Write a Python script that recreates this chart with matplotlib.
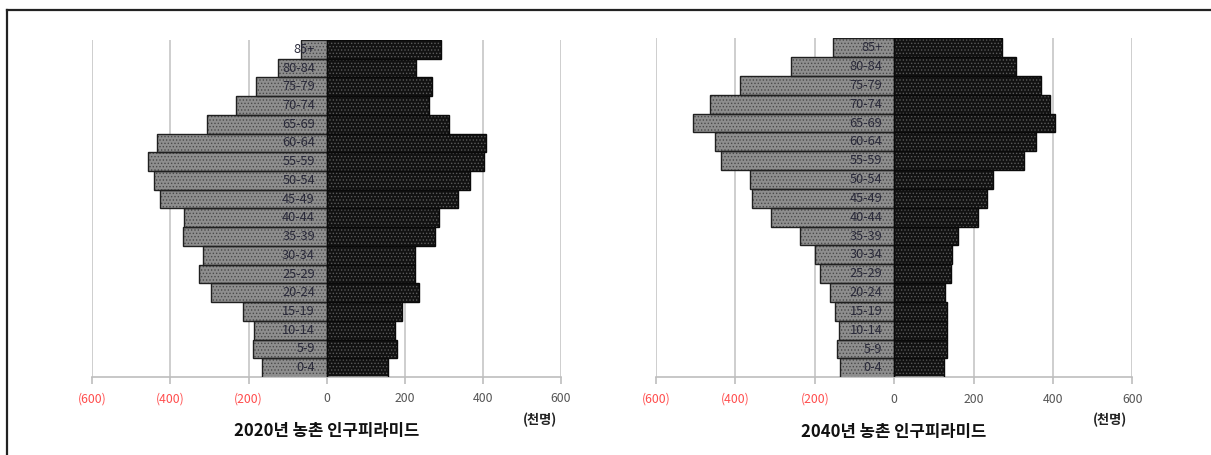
import matplotlib.pyplot as plt
import numpy as np

plt.rcParams['font.family'] = ['Noto Sans CJK KR', 'DejaVu Sans']
plt.rcParams['hatch.linewidth'] = 0.6

# 연령 구간 (아래 -> 위)
연령 = ['0-4', '5-9', '10-14', '15-19', '20-24', '25-29', '30-34', '35-39', '40-44',
      '45-49', '50-54', '55-59', '60-64', '65-69', '70-74', '75-79', '80-84', '85+']

# 2020년 농촌 인구 (천명), 남자는 왼쪽(음수)
남자_2020 = [166, 189, 186, 214, 297, 327, 316, 367, 365, 427, 442, 458, 435, 306, 232, 181, 124, 66]
여자_2020 = [158, 179, 175, 192, 237, 227, 226, 277, 288, 337, 367, 404, 407, 314, 262, 269, 228, 293]

# 2040년 농촌 인구 (천명)
남자_2040 = [136, 143, 140, 149, 162, 187, 200, 237, 311, 358, 364, 435, 451, 508, 463, 388, 260, 153]
여자_2040 = [126, 134, 132, 133, 128, 144, 147, 162, 210, 235, 249, 327, 358, 405, 393, 371, 306, 271]

눈금 = [-600, -400, -200, 0, 200, 400, 600]
눈금_라벨 = ['(600)', '(400)', '(200)', '0', '200', '400', '600']

fig = plt.figure(figsize=(12.11, 4.55), dpi=100)

# 바깥 테두리 (왼쪽, 위)
fig.add_artist(plt.Line2D([0.0058, 0.0058], [0, 0.978], color='#222222', lw=1.6))
fig.add_artist(plt.Line2D([0.0058, 1.0], [0.978, 0.978], color='#222222', lw=1.6))


def 피라미드(ax, 남, 여, 제목, 단위_x):
    y = np.arange(len(연령))
    남 = -np.array(남)
    여 = np.array(여)
    # 점무늬 채우기
    ax.barh(y, 남, height=1.0, color='#8e8e8e', edgecolor='#4a4a4a', hatch='.....', lw=0, zorder=2)
    ax.barh(y, 여, height=1.0, color='#121212', edgecolor='#5a5a5a', hatch='.....', lw=0, zorder=2)
    # 막대 테두리
    ax.barh(y, 남, height=1.0, fill=False, edgecolor='#202020', lw=1.0, zorder=3)
    ax.barh(y, 여, height=1.0, fill=False, edgecolor='#0a0a0a', lw=1.0, zorder=3)

    for i, t in enumerate(연령):
        ax.text(-30, y[i], t, ha='right', va='center', fontsize=9.2, color='#2a2a3a', zorder=4)

    ax.set_xlim(-600, 600)
    ax.set_ylim(-0.5, len(연령) - 0.5)
    ax.set_xticks(눈금)
    ax.set_xticklabels(눈금_라벨, fontsize=8.8)
    for lab, v in zip(ax.get_xticklabels(), 눈금):
        lab.set_color('#ff4d4d' if v < 0 else '#555555')
    ax.set_yticks([])
    ax.grid(axis='x', color='#c6c6c6', lw=1.2, zorder=0)
    for s in ['top', 'right', 'left']:
        ax.spines[s].set_visible(False)
    ax.spines['bottom'].set_color('#bdbdbd')
    ax.spines['bottom'].set_linewidth(1.2)
    ax.tick_params(axis='x', length=5, width=1.2, color='#bdbdbd', pad=6)

    fig.text(단위_x, 1 - 420 / 455, '(천명)', ha='center', va='center', fontsize=9.5,
             fontweight='bold', color='#222222')
    ax.set_title(제목, y=-0.2, fontsize=12, fontweight='bold', color='#111111')


ax1 = fig.add_axes([92.3 / 1211, 78 / 455, 468.7 / 1211, 337 / 455])
피라미드(ax1, 남자_2020, 여자_2020, '2020년 농촌 인구피라미드', 540 / 1211)

ax2 = fig.add_axes([656 / 1211, 77.7 / 455, 476.3 / 1211, 339 / 455])
피라미드(ax2, 남자_2040, 여자_2040, '2040년 농촌 인구피라미드', 1110 / 1211)

fig.savefig('out.png', dpi=100)
